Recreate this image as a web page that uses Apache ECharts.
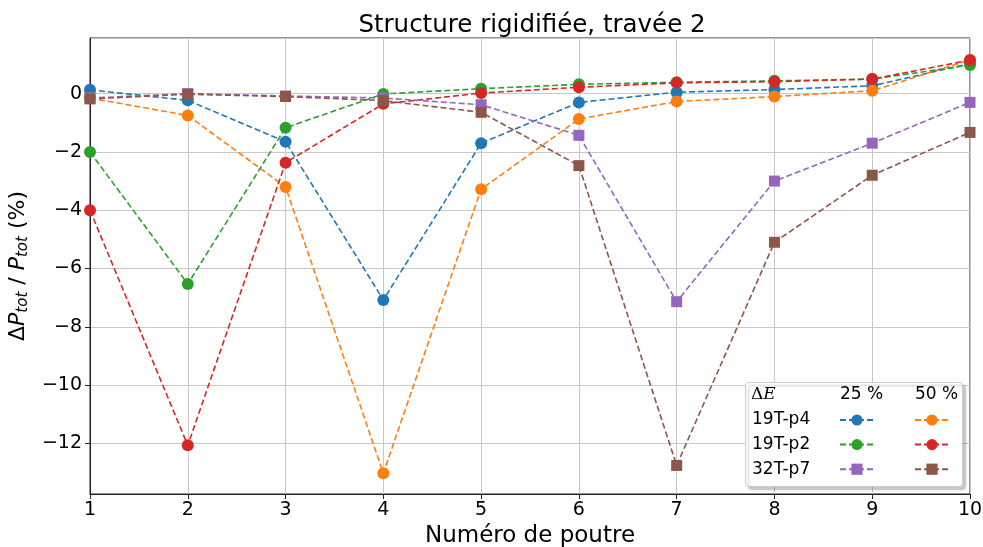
<!DOCTYPE html>
<html><head><meta charset="utf-8">
<script src="https://cdn.jsdelivr.net/npm/echarts@6/dist/echarts.min.js"></script>
<style>html,body{margin:0;padding:0;background:#fff}#c{width:983px;height:547px}</style>
</head><body><div id="c"></div>
<script>
var poutres = [1,2,3,4,5,6,7,8,9,10];
var p4_25 = [0.13,-0.23,-1.65,-7.08,-1.70,-0.30,0.05,0.14,0.27,1.03];
var p4_50 = [-0.15,-0.75,-3.20,-13.03,-3.28,-0.87,-0.27,-0.10,0.10,1.16];
var p2_25 = [-2.00,-6.53,-1.17,-0.01,0.17,0.32,0.39,0.44,0.50,0.98];
var p2_50 = [-4.00,-12.07,-2.37,-0.35,0.02,0.22,0.37,0.41,0.50,1.15];
var p7_25 = [-0.15,0.00,-0.08,-0.15,-0.38,-1.43,-7.14,-3.00,-1.70,-0.30];
var p7_50 = [-0.18,-0.02,-0.10,-0.24,-0.64,-2.47,-12.76,-5.10,-2.80,-1.33];
var yTicks = [0,-2,-4,-6,-8,-10,-12];
var rows = ['19T-p4','19T-p2','32T-p7'];
var cols = ['25 %','50 %'];

var C = ['#1f77b4','#ff7f0e','#2ca02c','#d62728','#9467bd','#8c564b'];
function pairs(v){return poutres.map(function(x,i){return [x,v[i]];});}
function mk(name,vals,color,sym){
  return {name:name,type:'line',data:pairs(vals),symbol:sym,symbolSize:sym==='rect'?11:12,
    lineStyle:{color:color,width:1.6,type:[6,3]},itemStyle:{color:color},
    emphasis:{disabled:true},animation:false,z:3};
}
var series = [
  mk(rows[0]+' '+cols[0],p4_25,C[0],'circle'),
  mk(rows[0]+' '+cols[1],p4_50,C[1],'circle'),
  mk(rows[1]+' '+cols[0],p2_25,C[2],'circle'),
  mk(rows[1]+' '+cols[1],p2_50,C[3],'circle'),
  mk(rows[2]+' '+cols[0],p7_25,C[4],'rect'),
  mk(rows[2]+' '+cols[1],p7_50,C[5],'rect')
];
var F = 'DejaVu Sans';
var leg = function(names,left){return {data:names,orient:'vertical',left:left,top:413,itemWidth:34,itemHeight:14,itemGap:12,
  formatter:function(){return '';},textStyle:{fontSize:1},selectedMode:false,z:12,padding:0};};
var chart = echarts.init(document.getElementById('c'));
chart.setOption({
  animation:false,
  textStyle:{fontFamily:F},
  title:{text:'Structure rigidifiée, travée 2',left:527,textAlign:'center',top:8,
    textStyle:{fontFamily:F,fontSize:24.5,fontWeight:'normal',color:'#000'}},
  grid:{left:90,right:13,top:38,bottom:53,containLabel:false,outerBoundsMode:'none',show:true,borderColor:'#222',borderWidth:1,backgroundColor:'transparent'},
  xAxis:{type:'value',min:1,max:10,interval:1,
    name:'Numéro de poutre',nameLocation:'middle',nameGap:28,
    nameTextStyle:{fontFamily:F,fontSize:23,color:'#000'},
    axisLine:{show:true,onZero:false,lineStyle:{color:'#222'}},
    axisTick:{show:true,length:5,lineStyle:{color:'#222'}},
    axisLabel:{fontFamily:F,fontSize:19,color:'#000',margin:7},
    splitLine:{show:true,lineStyle:{color:'#c8c8c8',width:1}}},
  yAxis:{type:'value',min:-13.74,max:1.91,minInterval:2,maxInterval:2,
    name:'{n|Δ}{i|P}{s|tot}{n| / }{i|P}{s|tot}{n| (%)}',nameLocation:'middle',nameGap:58,
    nameTextStyle:{rich:{
      n:{fontFamily:F,fontSize:22,color:'#000'},
      i:{fontFamily:F,fontSize:22,fontStyle:'italic',color:'#000'},
      s:{fontFamily:F,fontSize:15,fontStyle:'italic',color:'#000',padding:[10,0,0,0]}}},
    axisLine:{show:true,onZero:false,lineStyle:{color:'#222'}},
    axisTick:{show:true,length:5,lineStyle:{color:'#222'}},
    axisLabel:{fontFamily:F,fontSize:19,color:'#000',margin:8,showMinLabel:false,showMaxLabel:false,
      formatter:function(v){return yTicks.indexOf(v)>=0 ? String(v).replace('-','\u2212') : '';}},
    splitLine:{show:true,lineStyle:{color:'#c8c8c8',width:1}}},
  legend:[leg([series[0].name,series[2].name,series[4].name],839),
          leg([series[1].name,series[3].name,series[5].name],914)],
  graphic:[
    {type:'rect',left:745,top:382,shape:{width:217,height:104,r:3},z:11,
      style:{fill:'#fff',stroke:'#cccccc',lineWidth:1,shadowColor:'rgba(0,0,0,0.22)',shadowOffsetX:3,shadowOffsetY:3,shadowBlur:2}},
    {type:'text',left:751,top:386,z:12,style:{text:'{n|Δ}{i|E}',rich:{n:{fontFamily:'DejaVu Serif',fontSize:17,fill:'#000'},i:{fontFamily:'DejaVu Serif',fontStyle:'italic',fontSize:17,fill:'#000'}}}},
    {type:'text',left:840,top:386,z:12,style:{text:cols[0],fontFamily:F,fontSize:17,fill:'#000'}},
    {type:'text',left:915,top:386,z:12,style:{text:cols[1],fontFamily:F,fontSize:17,fill:'#000'}},
    {type:'text',left:752,top:411,z:12,style:{text:rows[0],fontFamily:F,fontSize:17,fill:'#000'}},
    {type:'text',left:752,top:436,z:12,style:{text:rows[1],fontFamily:F,fontSize:17,fill:'#000'}},
    {type:'text',left:752,top:461,z:12,style:{text:rows[2],fontFamily:F,fontSize:17,fill:'#000'}}
  ],
  series:series
});
</script></body></html>
